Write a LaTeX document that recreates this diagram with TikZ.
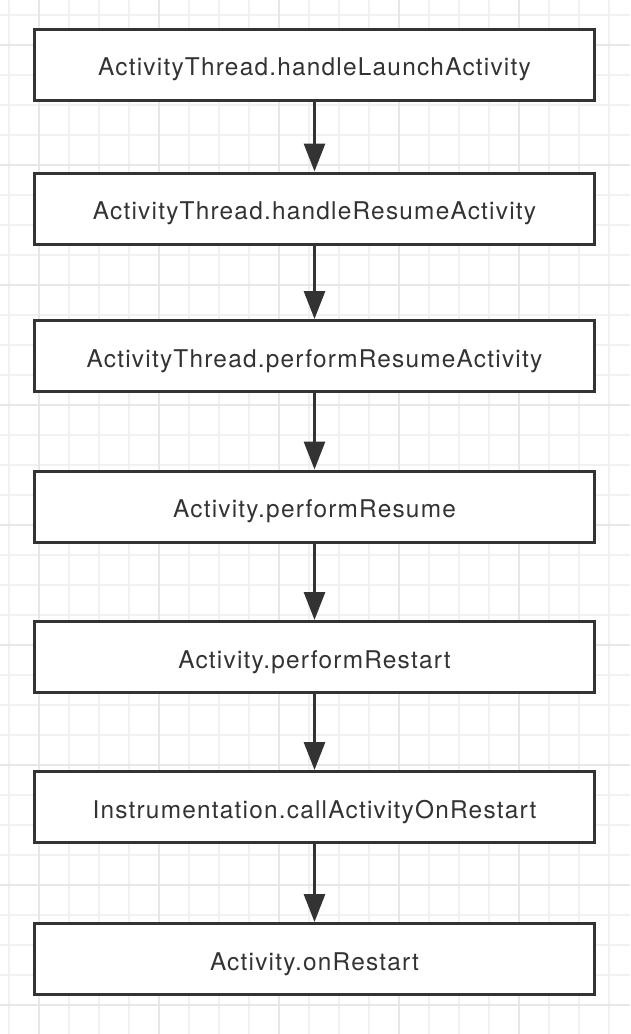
\documentclass[tikz,border=0pt]{standalone}
\usepackage{fontspec}
\setmainfont{TeX Gyre Heros}[LetterSpace=5]
\usetikzlibrary{arrows.meta}
\definecolor{ink}{HTML}{333333}
\definecolor{gridminor}{HTML}{F1F1F1}
\definecolor{gridmajor}{HTML}{E7E7E7}
\tikzset{
  stepbox/.style={draw=ink, line width=3pt, fill=white, minimum width=560pt, minimum height=71pt, inner sep=0pt, text height=22pt, text depth=0pt, font=\fontsize{24.4}{28}\selectfont, text=ink},
  flow/.style={draw=ink, line width=3pt, -{Triangle[width=21pt,length=28pt]}},
}
\begin{document}
\begin{tikzpicture}[x=1pt,y=-1pt]
\useasboundingbox (0,0) rectangle (630,1034);
\fill[white] (0,0) rectangle (630,1034);
% minor grid
\foreach \i in {0,...,20} {\draw[gridminor, line width=2pt] (9+30*\i,0) -- (9+30*\i,1034);}
\foreach \j in {0,...,33} {\draw[gridminor, line width=2pt] (0,15+30*\j) -- (630,15+30*\j);}
% major grid
\foreach \i in {0,...,4} {\draw[gridmajor, line width=2pt] (39+120*\i,0) -- (39+120*\i,1034);}
\foreach \j in {0,...,8} {\draw[gridmajor, line width=2pt] (0,45+120*\j) -- (630,45+120*\j);}
% boxes
\node[stepbox] (n1) at (314.5,64.5) {ActivityThread.handleLaunchActivity};
\node[stepbox] (n2) at (314.5,208.5) {ActivityThread.handleResumeActivity};
\node[stepbox] (n3) at (314.5,356) {ActivityThread.performResumeActivity};
\node[stepbox] (n4) at (314.5,506.5) {Activity.performResume};
\node[stepbox] (n5) at (314.5,657) {Activity.performRestart};
\node[stepbox] (n6) at (314.5,807) {Instrumentation.callActivityOnRestart};
\node[stepbox] (n7) at (314.5,959) {Activity.onRestart};
% arrows
\draw[flow] (n1.south) -- (n2.north);
\draw[flow] (n2.south) -- (n3.north);
\draw[flow] (n3.south) -- (n4.north);
\draw[flow] (n4.south) -- (n5.north);
\draw[flow] (n5.south) -- (n6.north);
\draw[flow] (n6.south) -- (n7.north);
\end{tikzpicture}
\end{document}
